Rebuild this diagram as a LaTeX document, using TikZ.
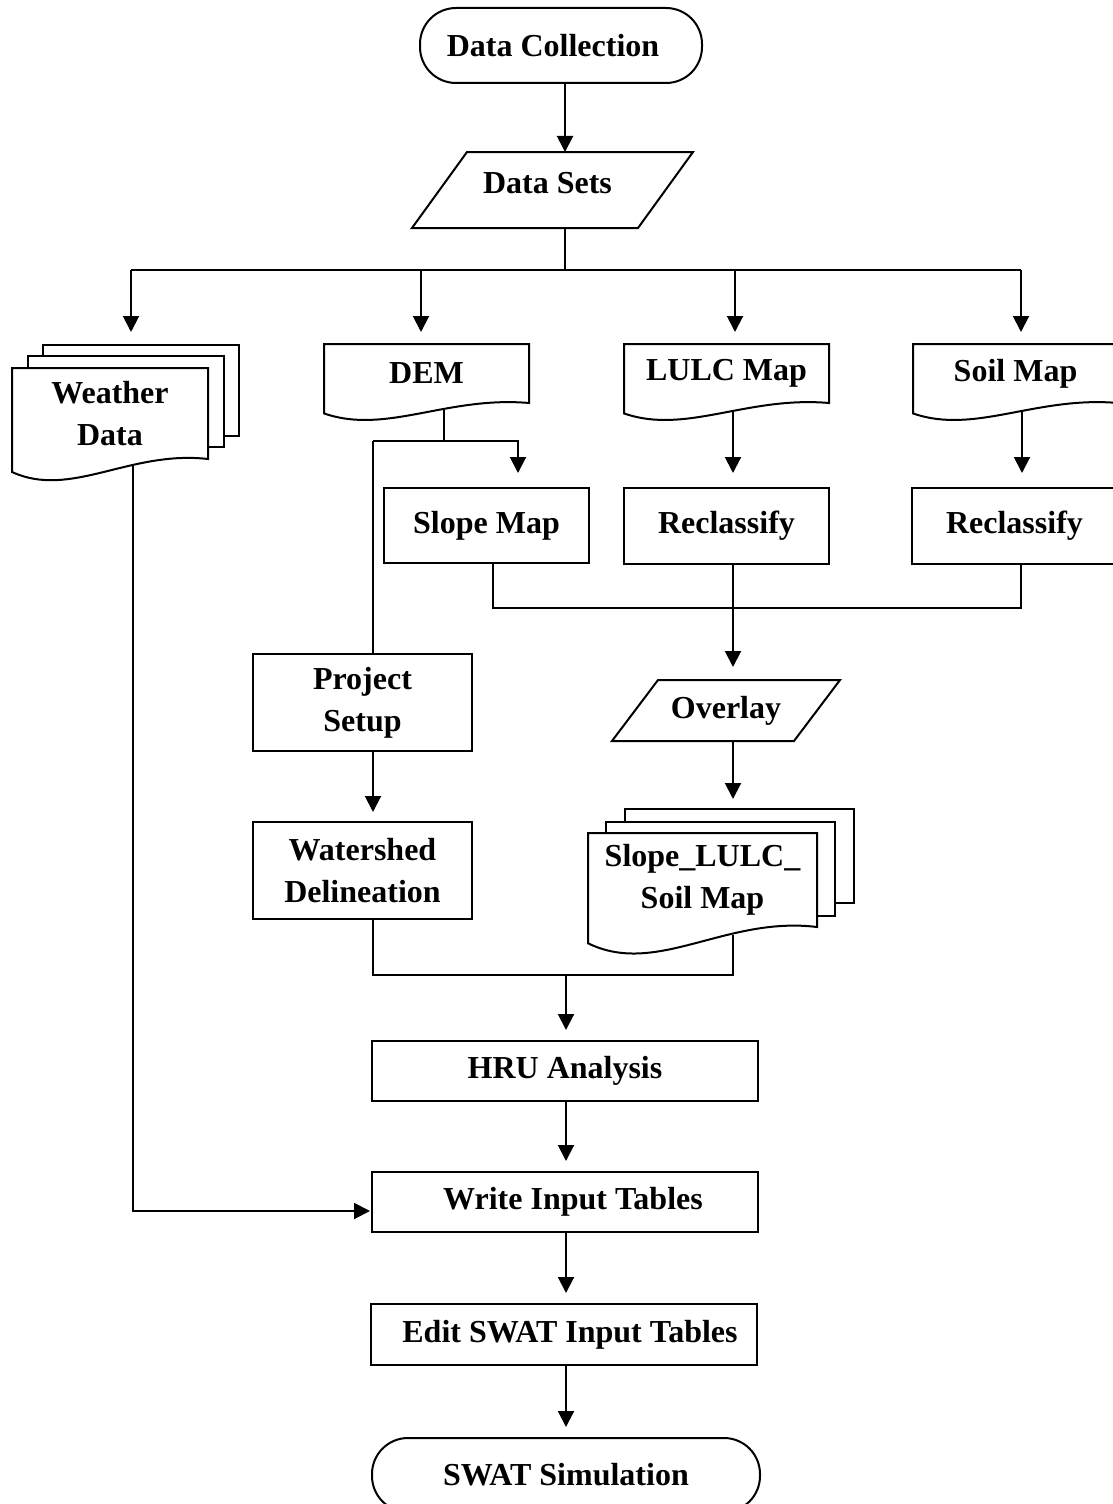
\documentclass[tikz,border=0pt]{standalone}
\usepackage{fontspec}
\setmainfont{Liberation Serif}
\usetikzlibrary{arrows.meta,calc,backgrounds}
\newcommand\docshape[2]{%
  \draw[shp] (#1.north west) -- (#1.north east) -- (#1.south east)
    .. controls ($(#1.south west)!0.6!(#1.south east)+(0,-0.45*#2)$)
       and ($(#1.south west)!0.3!(#1.south east)+(0,2*#2)$)
    .. ($(#1.south west)+(0,0.65*#2)$) -- cycle;}
\newcommand\sheetrect[3]{\draw[shp] ($(#1.north west)+(#2,#3)$) rectangle ($(#1.south east)+(#2,#3)$);}
\newcommand\paragr[2]{\draw[shp] ($(#1.north west)+(#2,0)$) -- ($(#1.north east)+(#2,0)$) -- ($(#1.south east)+(-#2,0)$) -- ($(#1.south west)+(-#2,0)$) -- cycle;}
\begin{document}
\begin{tikzpicture}[x=0.5pt,y=-0.5pt,
  every node/.style={font=\bfseries\fontsize{16pt}{21pt}\selectfont, align=center, inner sep=0pt, outer sep=0pt},
  box/.style 2 args={draw, line width=1pt, minimum width=#1, minimum height=#2},
  term/.style 2 args={draw, line width=1pt, rounded corners=18pt, minimum width=#1, minimum height=#2},
  txt/.style 2 args={minimum width=#1, minimum height=#2},
  ln/.style={line width=1pt},
  arr/.style={line width=1pt, -{Triangle[width=8pt,length=8pt]}},
  shp/.style={line width=1pt, fill=white}]

\useasboundingbox (0,0) rectangle (1113,1504);

% nodes
\node[term={141pt}{37.5pt}] (dc) at (561,45.5) {Data Collection\hspace*{8pt}};
\node[txt={113pt}{38pt}, text depth=7pt] (ds) at (552.5,190) {Data Sets\hspace*{5pt}};
\node[txt={98pt}{45.5pt}] (wd) at (110,413.5) {Weather\\Data};
\node[txt={102.5pt}{29.5pt}] (dem) at (426.5,373.5) {DEM};
\node[txt={102.5pt}{29.5pt}] (lulc) at (726.5,373.5) {LULC Map};
\node[txt={102.5pt}{29.5pt}] (soil) at (1015.5,373.5) {Soil Map};
\node[box={102.5pt}{37.5pt}] (slope) at (486.5,525.5) {Slope Map};
\node[box={102.5pt}{38pt}] (rc1) at (726.5,526) {Reclassify};
\node[box={102.5pt}{38pt}] (rc2) at (1014.5,526) {Reclassify};
\node[txt={91pt}{30.5pt}] (ov) at (726,710.5) {Overlay};
\node[box={109.5pt}{48.5pt}] (ps) at (362.5,702.5) {Project\\Setup};
\node[box={109.5pt}{48.5pt}] (ws) at (362.5,870.5) {Watershed\\Delineation};
\node[txt={114.5pt}{47pt}] (sls) at (702.5,880) {Slope\_LULC\_\\Soil Map};
\node[box={193pt}{30pt}] (hru) at (565,1071) {HRU Analysis};
\node[box={193pt}{30pt}] (wit) at (565,1202) {\hspace*{8pt}Write Input Tables};
\node[box={193pt}{30.5pt}] (edit) at (564,1334.5) {\hspace*{6pt}Edit SWAT Input Tables};
\node[term={194pt}{37pt}] (swat) at (566,1475) {SWAT Simulation};

% shapes behind the texts
\begin{pgfonlayer}{background}
  \paragr{ds}{27.5}
  \paragr{ov}{23}
  \sheetrect{wd}{31}{-23}
  \sheetrect{wd}{16}{-12}
  \docshape{wd}{20}
  \docshape{dem}{16}
  \docshape{lulc}{16}
  \docshape{soil}{16}
  \sheetrect{sls}{37}{-24}
  \sheetrect{sls}{18}{-11}
  \docshape{sls}{25}
\end{pgfonlayer}

% connector coordinates
\coordinate (split) at (565,270);
\coordinate (b1) at (131,270);
\coordinate (b2) at (421,270);
\coordinate (b3) at (735,270);
\coordinate (b4) at (1021,270);
\coordinate (demout) at (444,410);
\coordinate (dj) at (444,441);
\coordinate (dl) at (373,441);
\coordinate (dr) at (518,441);
\coordinate (lout) at (733,411);
\coordinate (sout) at (1022,411);
\coordinate (m1) at (493,608);
\coordinate (m2) at (1021,608);
\coordinate (mc) at (733,608);
\coordinate (slstop) at (733,808);
\coordinate (slsout) at (733,935);
\coordinate (j1) at (373,975);
\coordinate (j2) at (733,975);
\coordinate (jc) at (566,975);
\coordinate (wout) at (133,465);
\coordinate (wc) at (133,1211);

% connectors
\draw[arr] (dc.south -| split) -- (ds.north -| split);
\draw[ln] (ds.south -| split) -- (split);
\draw[ln] (b1) -- (b4);
\draw[arr, shorten >=6pt] (b1) -- (b1 |- dem.north);
\draw[arr, shorten >=6pt] (b2) -- (b2 |- dem.north);
\draw[arr, shorten >=6pt] (b3) -- (b3 |- lulc.north);
\draw[arr, shorten >=6pt] (b4) -- (b4 |- soil.north);

\draw[ln] (demout) -- (dj);
\draw[arr, shorten >=7.5pt] (dl) -- (dr) -- (dr |- slope.north);
\draw[ln] (dl) -- (dl |- ps.north);
\draw[arr, shorten >=7.5pt] (lout) -- (lout |- rc1.north);
\draw[arr, shorten >=7.5pt] (sout) -- (sout |- rc2.north);

\draw[ln] (slope.south -| m1) -- (m1) -- (m2) -- (rc2.south -| m2);
\draw[arr, shorten >=6.5pt] (rc1.south -| mc) -- (ov.north -| mc);
\draw[arr, shorten >=4.5pt] (ov.south -| mc) -- (slstop);

\draw[arr, shorten >=5pt] (ps.south -| dl) -- (ws.north -| dl);
\draw[ln] (ws.south -| j1) -- (j1) -- (j2) -- (slsout);
\draw[arr, shorten >=5.5pt] (jc) -- (jc |- hru.north);
\draw[arr, shorten >=5.5pt] (hru.south -| jc) -- (wit.north -| jc);
\draw[arr, shorten >=5.5pt] (wit.south -| jc) -- (edit.north -| jc);
\draw[arr, shorten >=5.5pt] (edit.south -| jc) -- (swat.north -| jc);

\draw[arr, shorten >=1pt] (wout) -- (wc) -- (wc -| wit.west);
\end{tikzpicture}
\end{document}
